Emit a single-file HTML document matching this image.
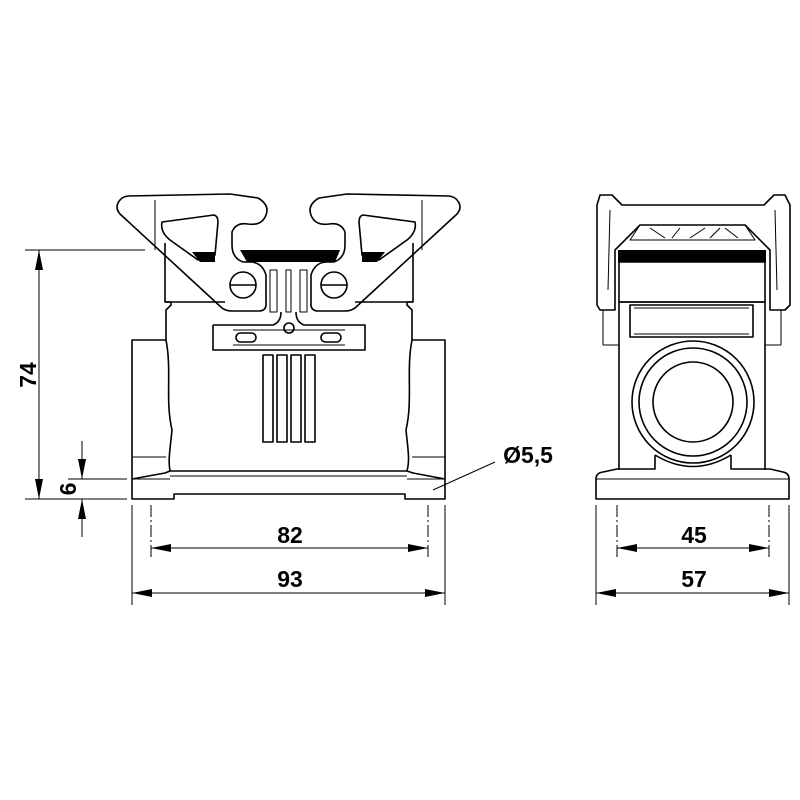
<!DOCTYPE html>
<html><head><meta charset="utf-8"><style>html,body{margin:0;padding:0;background:#fff}svg{display:block}</style></head>
<body>
<svg width="800" height="800" viewBox="0 0 800 800" xmlns="http://www.w3.org/2000/svg">
<defs>
<marker id="a" viewBox="0 0 20 8" refX="20" refY="4" markerWidth="20" markerHeight="8" markerUnits="userSpaceOnUse" orient="auto-start-reverse"><path d="M0,0 L20,4 L0,8 Z" fill="#000"/></marker>
</defs>
<g fill="none" stroke="#000" stroke-width="1.6" stroke-linejoin="round">
<!-- LEFT VIEW -->
<path d="M132,479 L132,499 L174,499 L174,494 L405,494 L405,499 L445,499 L445,479"/>
<path d="M132,479 L165,473 L170,471 L407,471 L413,473 L445,479"/>
<line x1="170" y1="476" x2="407" y2="476" stroke-width="1"/>
<line x1="132" y1="479" x2="170" y2="479" stroke-width="1"/>
<line x1="407" y1="479" x2="445" y2="479" stroke-width="1"/>
<path d="M132,479 L132,340 L166,340"/>
<path d="M445,479 L445,340 L412,340"/>
<line x1="132" y1="457" x2="166" y2="457" stroke-width="1"/>
<line x1="412" y1="457" x2="445" y2="457" stroke-width="1"/>
<path d="M166,340 C172,370 165,400 172,430 C170,450 168,460 170,471"/>
<path d="M412,340 C406,370 413,400 406,430 C408,450 410,460 407,471"/>
<path d="M166,340 L166,310 L171,305 L171,302 L165,302 L165,243"/>
<path d="M412,340 L412,310 L407,305 L407,302 L413,302 L413,243"/>
<line x1="165" y1="302" x2="225" y2="302"/>
<line x1="355" y1="302" x2="413" y2="302"/>
<!-- levers -->
<path d="M120,200 Q114,207 120,214 L222,308 Q226,311 232,311 L260,311 Q267,310 266,302 L266,275 Q262,262 250,262 L243,262 Q232,258 232,245 L232,232 Q236,222 248,224 Q262,226 266,215 Q270,205 258,198 L230,194 L128,196 Q122,197 120,200 Z"/>
<path d="M457,200 Q463,207 457,214 L355,308 Q351,311 345,311 L317,311 Q310,310 311,302 L311,275 Q315,262 327,262 L334,262 Q345,258 345,245 L345,232 Q341,222 329,224 Q315,226 311,215 Q307,205 319,198 L347,194 L449,196 Q455,197 457,200 Z"/>
<path d="M162,222 L214,215 Q218,216 218,222 L215,255 L198,260 L170,240 Q160,232 162,222 Z"/>
<path d="M415,222 L363,215 Q359,216 359,222 L362,255 L379,260 L407,240 Q417,232 415,222 Z"/>
<line x1="155" y1="200" x2="155" y2="250" stroke-width="1"/>
<line x1="422" y1="200" x2="422" y2="250" stroke-width="1"/>
<circle cx="243" cy="285" r="13"/><line x1="230" y1="285" x2="256" y2="285"/>
<circle cx="334" cy="285" r="13"/><line x1="321" y1="285" x2="347" y2="285"/>
<path d="M270,270 L270,312 L277,312 L277,270 Z" stroke-width="1"/>
<path d="M300,270 L300,312 L307,312 L307,270 Z" stroke-width="1"/>
<path d="M286,270 L286,312 L291,312 L291,270 Z" stroke-width="1"/>
<path d="M213,325 L273,325 Q281,322 281,312"/>
<path d="M296,312 Q296,322 304,325 L365,325 L365,350 L213,350 L213,325"/>
<circle cx="289" cy="328" r="5"/>
<rect x="236" y="333" width="20" height="9" rx="4.5"/>
<rect x="321" y="333" width="20" height="9" rx="4.5"/>
<line x1="233" y1="330" x2="345" y2="330" stroke-width="1"/>
<line x1="233" y1="345" x2="345" y2="345" stroke-width="1"/>
<rect x="263" y="355" width="10" height="87"/>
<rect x="277" y="355" width="10" height="87"/>
<rect x="291" y="355" width="10" height="87"/>
<rect x="305" y="355" width="10" height="87"/>
<!-- RIGHT VIEW -->
<path d="M596,479 Q596,473 603,472 L617,469 L655,469 L655,455"/>
<path d="M731,455 L731,469 L770,469 L783,472 Q789,473 789,479 L789,499 L596,499 L596,479"/>
<line x1="596" y1="479" x2="789" y2="479" stroke-width="1"/>
<path d="M619,470 L619,302 L765,302 L765,470"/>
<path d="M655,455 Q693,478 731,455"/>
<circle cx="693" cy="402" r="61"/>
<circle cx="693" cy="402" r="54"/>
<circle cx="693" cy="402" r="40"/>
<rect x="630" y="305" width="123" height="32"/>
<line x1="634" y1="308" x2="749" y2="308" stroke-width="1"/>
<line x1="634" y1="334" x2="749" y2="334" stroke-width="1"/>
<rect x="619" y="262" width="146" height="40"/>
<path d="M600,195 L612,195 L622,205 L764,205 L774,195 L785,195 L790,205 L790,305 L785,310 L770,310 L770,250 L745,225 L640,225 L615,250 L615,310 L600,310 L597,305 L597,205 Z"/>
<path d="M610,210 L608,290 M775,210 L777,290" stroke-width="1"/>
<path d="M640,225 L630,240 L755,240 L745,225" stroke-width="1"/>
<path d="M650,228 L665,238 M680,228 L672,238 M690,238 L705,228 M710,238 L720,228 M725,228 L738,238" stroke-width="1"/>
<path d="M603,310 L603,345 L619,345 M781,310 L781,345 L765,345" stroke-width="1"/>
</g>
<rect x="618" y="250" width="148" height="12" fill="#000"/>
<path d="M192,252 L215,252 L215,262 L200,262 Z" fill="#000"/>
<path d="M385,252 L362,252 L362,262 L377,262 Z" fill="#000"/>
<path d="M240,250 L340,250 L335,262 L247,262 Z" fill="#000"/>
<g stroke="#000" stroke-width="1" fill="none">
<line x1="25" y1="250" x2="145" y2="250"/>
<line x1="25" y1="499" x2="127" y2="499"/>
<line x1="68" y1="479" x2="127" y2="479"/>
<line x1="39" y1="250" x2="39" y2="499" marker-start="url(#a)" marker-end="url(#a)"/>
<line x1="82" y1="441" x2="82" y2="479" marker-end="url(#a)"/>
<line x1="82" y1="537" x2="82" y2="499" marker-end="url(#a)"/>
<line x1="132" y1="505" x2="132" y2="605"/>
<line x1="445" y1="505" x2="445" y2="605"/>
<line x1="151" y1="505" x2="151" y2="560" stroke-dasharray="12,3,2,3"/>
<line x1="428" y1="505" x2="428" y2="560" stroke-dasharray="12,3,2,3"/>
<line x1="151" y1="548" x2="428" y2="548" marker-start="url(#a)" marker-end="url(#a)"/>
<line x1="132" y1="593" x2="445" y2="593" marker-start="url(#a)" marker-end="url(#a)"/>
<line x1="495" y1="462" x2="433" y2="490"/>
<line x1="596" y1="505" x2="596" y2="605"/>
<line x1="789" y1="505" x2="789" y2="605"/>
<line x1="617" y1="505" x2="617" y2="560" stroke-dasharray="12,3,2,3"/>
<line x1="769" y1="505" x2="769" y2="560" stroke-dasharray="12,3,2,3"/>
<line x1="617" y1="548" x2="769" y2="548" marker-start="url(#a)" marker-end="url(#a)"/>
<line x1="596" y1="593" x2="789" y2="593" marker-start="url(#a)" marker-end="url(#a)"/>
</g>
<g font-family="Liberation Sans, sans-serif" font-weight="bold" font-size="23" fill="#000" text-anchor="middle">
<text x="290" y="543">82</text>
<text x="290" y="587">93</text>
<text x="694" y="543">45</text>
<text x="694" y="587">57</text>
<text x="528" y="463">Ø5,5</text>
<text transform="translate(36,375) rotate(-90)">74</text>
<text transform="translate(76,489) rotate(-90)">6</text>
</g>
</svg>
</body></html>
